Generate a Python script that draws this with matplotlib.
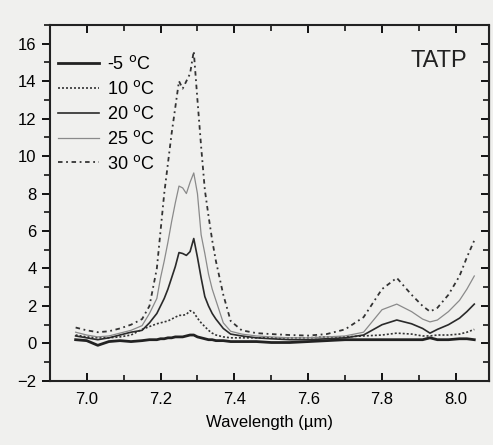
import matplotlib
matplotlib.use("Agg")
import matplotlib.pyplot as plt
from matplotlib.ticker import MultipleLocator

plt.rcParams['font.family'] = ['Liberation Sans', 'DejaVu Sans']

# wavelength grid (um)
wavelength = [6.97, 7.00, 7.03, 7.06, 7.09, 7.12, 7.15, 7.17, 7.19,
              7.20, 7.21, 7.22, 7.23, 7.24, 7.25, 7.26, 7.27, 7.28, 7.29,
              7.30, 7.31, 7.32, 7.33, 7.34, 7.35, 7.37, 7.39, 7.42, 7.46,
              7.50, 7.55, 7.60, 7.65, 7.70, 7.75, 7.80, 7.84, 7.88, 7.91,
              7.93, 7.95, 7.98, 8.01, 8.03, 8.05]

t_m5 = [0.2, 0.15, -0.1, 0.1, 0.15, 0.1, 0.15, 0.2, 0.2,
        0.25, 0.25, 0.3, 0.3, 0.35, 0.35, 0.35, 0.4, 0.45, 0.45,
        0.35, 0.3, 0.25, 0.2, 0.2, 0.15, 0.15, 0.1, 0.1, 0.1,
        0.05, 0.05, 0.1, 0.15, 0.2, 0.2, 0.2, 0.2, 0.2, 0.2,
        0.3, 0.2, 0.2, 0.25, 0.25, 0.2]

t_10 = [0.45, 0.35, 0.3, 0.3, 0.35, 0.45, 0.75, 0.9, 1.05,
        1.1, 1.15, 1.2, 1.3, 1.4, 1.5, 1.5, 1.55, 1.75, 1.65,
        1.35, 1.1, 0.9, 0.7, 0.55, 0.45, 0.35, 0.3, 0.3, 0.3,
        0.3, 0.3, 0.3, 0.35, 0.35, 0.4, 0.45, 0.55, 0.5, 0.4,
        0.4, 0.45, 0.45, 0.5, 0.6, 0.75]

t_20 = [0.4, 0.3, 0.2, 0.3, 0.45, 0.6, 0.7, 1.1, 1.6,
        2.0, 2.4, 2.9, 3.5, 4.1, 4.85, 4.8, 4.7, 4.9, 5.6,
        4.6, 3.5, 2.5, 2.0, 1.6, 1.3, 0.8, 0.5, 0.4, 0.3,
        0.25, 0.2, 0.2, 0.25, 0.3, 0.45, 1.0, 1.25, 1.05, 0.8,
        0.55, 0.75, 1.0, 1.35, 1.7, 2.1]

t_25 = [0.6, 0.45, 0.35, 0.4, 0.55, 0.7, 0.95, 1.6, 2.4,
        3.5, 4.4, 5.4, 6.5, 7.5, 8.4, 8.3, 8.0, 8.6, 9.1,
        8.0, 5.8, 4.8, 3.7, 2.9, 2.3, 1.1, 0.65, 0.5, 0.4,
        0.35, 0.3, 0.3, 0.35, 0.4, 0.6, 1.8, 2.1, 1.7, 1.3,
        1.15, 1.25, 1.7, 2.3, 2.9, 3.6]

t_30 = [0.85, 0.7, 0.6, 0.65, 0.8, 1.0, 1.3, 2.0, 4.0,
        6.0, 8.0, 9.6, 11.2, 12.6, 14.0, 13.6, 14.0, 14.4, 15.6,
        13.0, 10.5, 8.2, 6.8, 5.5, 4.4, 2.6, 1.2, 0.7, 0.55,
        0.5, 0.45, 0.42, 0.5, 0.75, 1.4, 2.9, 3.5, 2.6, 2.0,
        1.7, 1.9, 2.6, 3.6, 4.6, 5.5]

labels = ['-5 $^{\\rm o}$C', '10 $^{\\rm o}$C', '20 $^{\\rm o}$C',
          '25 $^{\\rm o}$C', '30 $^{\\rm o}$C']

paper = '#f0f0ee'
fig = plt.figure(figsize=(4.93, 4.45), dpi=100, facecolor=paper)
ax = fig.add_axes([0.101, 0.144, 0.891, 0.8])
ax.set_facecolor(paper)

ax.plot(wavelength, t_m5, color='#222222', lw=2.0, label=labels[0])
ax.plot(wavelength, t_10, color='#333333', lw=1.2, ls=(0, (1.2, 1.2)), label=labels[1])
ax.plot(wavelength, t_20, color='#2a2a2a', lw=1.2, label=labels[2])
ax.plot(wavelength, t_25, color='#8a8a8a', lw=0.9, label=labels[3])
ax.plot(wavelength, t_30, color='#333333', lw=1.3, ls=(0, (2.5, 2, 1, 2)), label=labels[4])

ax.set_xlim(6.9, 8.09)
ax.set_ylim(-2, 17)
ax.xaxis.set_major_locator(MultipleLocator(0.2))
ax.xaxis.set_minor_locator(MultipleLocator(0.1))
ax.yaxis.set_major_locator(MultipleLocator(2))
ax.yaxis.set_minor_locator(MultipleLocator(1))
ax.xaxis.set_major_formatter(matplotlib.ticker.FormatStrFormatter('%.1f'))

ax.tick_params(axis='x', which='both', direction='in', top=True, labelsize=12, pad=8)
ax.tick_params(axis='y', which='both', direction='out', labelsize=12)
ax.tick_params(which='major', length=6, width=1.3)
ax.tick_params(which='minor', length=4, width=1.1)
for s in ax.spines.values():
    s.set_linewidth(1.5)
    s.set_color('#222222')

# right axis ticks point inward
ax2 = ax.secondary_yaxis('right')
ax2.yaxis.set_major_locator(MultipleLocator(2))
ax2.yaxis.set_minor_locator(MultipleLocator(1))
ax2.tick_params(which='both', direction='in', labelright=False)
ax2.tick_params(which='major', length=6, width=1.3)
ax2.tick_params(which='minor', length=4, width=1.1)

ax.set_xlabel('Wavelength (\u00b5m)', fontsize=12, labelpad=6)

ax.text(0.95, 0.90, 'TATP', transform=ax.transAxes, fontsize=17,
        ha='right', va='center', color='#222222')

ax.legend(loc='upper left', frameon=False, fontsize=13, handlelength=2.3,
          handletextpad=0.4, labelspacing=0.38, borderpad=0.3,
          borderaxespad=0, bbox_to_anchor=(0.006, 0.93))

fig.savefig('out.png', dpi=100, facecolor=paper)
